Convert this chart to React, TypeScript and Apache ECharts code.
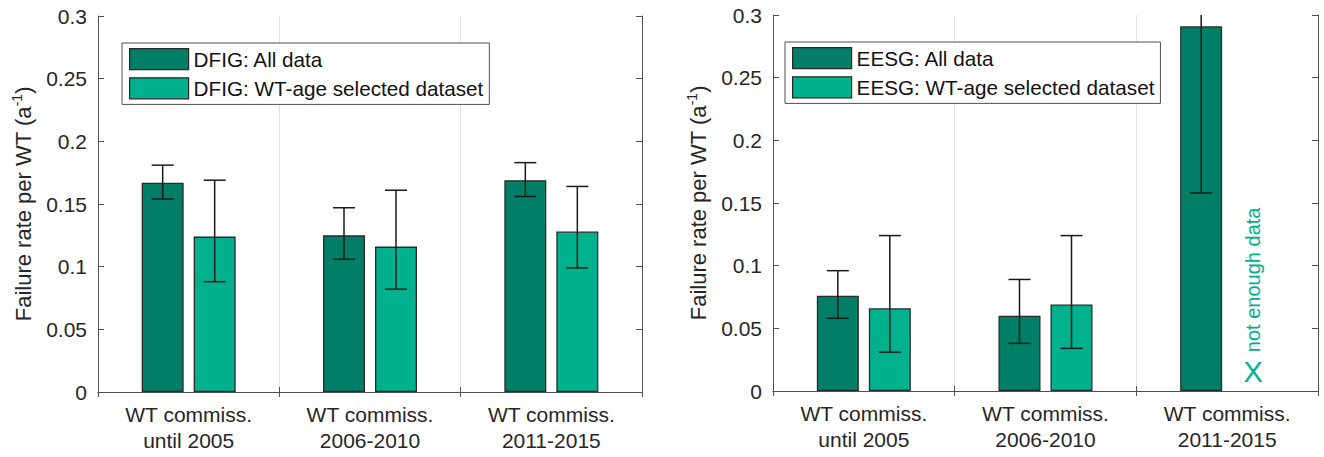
import React, { useEffect, useRef } from "react";
import * as echarts from "echarts";

// ---------- data ----------
const categories = ["WT commiss.\nuntil 2005", "WT commiss.\n2006-2010", "WT commiss.\n2011-2015"];

const dfigAllName = "DFIG: All data";
const dfigSelName = "DFIG: WT-age selected dataset";
const eesgAllName = "EESG: All data";
const eesgSelName = "EESG: WT-age selected dataset";

const dfigAll = [0.167, 0.125, 0.169];
const dfigAllLow = [0.154, 0.106, 0.156];
const dfigAllHigh = [0.181, 0.147, 0.183];
const dfigSel = [0.124, 0.116, 0.128];
const dfigSelLow = [0.088, 0.082, 0.099];
const dfigSelHigh = [0.169, 0.161, 0.164];

const eesgAll = [0.076, 0.06, 0.291];
const eesgAllLow = [0.058, 0.038, 0.158];
const eesgAllHigh = [0.096, 0.089, 0.424];
const eesgSel: (number | null)[] = [0.066, 0.069, null];
const eesgSelLow: (number | null)[] = [0.031, 0.034, null];
const eesgSelHigh: (number | null)[] = [0.124, 0.124, null];

const yMin = 0;
const yMax = 0.3;
const yInterval = 0.05;
const yAxisTitle = "Failure rate per WT (a{sup|-1})";

const noteCategory = 2;
const noteMark = "X";
const noteMarkValue = 0.015;
const noteText = "not enough data";
const noteTextStart = 0.031;

// ---------- style ----------
const DARK = "#007f66";
const LIGHT = "#00b18e";
const NOTE = "#00b08c";
const AXIS = "#505050";
const TEXT = "#262626";
const FONT = "Liberation Sans, Arial, Helvetica, sans-serif";
const BAR_W = 42;
const BAR_GAP_PX = 10;
const HALF = (BAR_W + BAR_GAP_PX) / 2;
const CAP = 11;

function errorData(low: (number | null)[], high: (number | null)[], side: number) {
  const out: any[] = [];
  low.forEach((l, i) => {
    if (l == null || high[i] == null) return;
    out.push([i, l, high[i], side]);
  });
  return out;
}

function errorRender(params: any, api: any) {
  const idx = api.value(0);
  const lo = api.value(1);
  const hiRaw = api.value(2);
  const side = api.value(3);
  const hi = Math.min(hiRaw, yMax);
  const pLo = api.coord([idx, lo]);
  const pHi = api.coord([idx, hi]);
  const x = pLo[0] + side * HALF;
  const style = { stroke: "#1a1a1a", lineWidth: 1.5 };
  const children: any[] = [
    { type: "line", shape: { x1: x, y1: pLo[1], x2: x, y2: pHi[1] }, style },
    { type: "line", shape: { x1: x - CAP, y1: pLo[1], x2: x + CAP, y2: pLo[1] }, style },
  ];
  if (hiRaw <= yMax) {
    children.push({ type: "line", shape: { x1: x - CAP, y1: pHi[1], x2: x + CAP, y2: pHi[1] }, style });
  }
  return { type: "group", children };
}

function noteRender(params: any, api: any) {
  const idx = api.value(0);
  const pm = api.coord([idx, api.value(1)]);
  const pt = api.coord([idx, api.value(2)]);
  const x = pm[0] + HALF;
  return {
    type: "group",
    children: [
      {
        type: "text",
        x,
        y: pm[1],
        style: { text: noteMark, fontSize: 29, fill: NOTE, align: "center", verticalAlign: "middle", fontFamily: FONT },
      },
      {
        type: "text",
        x,
        y: pt[1],
        rotation: Math.PI / 2,
        style: { text: noteText, fontSize: 20, fill: NOTE, align: "left", verticalAlign: "middle", fontFamily: FONT },
      },
    ],
  };
}

function axesFor(gridIndex: number) {
  const xBottom = {
    type: "category",
    gridIndex,
    data: categories,
    position: "bottom",
    boundaryGap: true,
    axisLine: { show: true, lineStyle: { color: AXIS, width: 1 } },
    axisTick: { show: true, inside: true, length: 5, lineStyle: { color: AXIS } },
    axisLabel: { fontSize: 21, color: TEXT, margin: 9, lineHeight: 26, fontFamily: FONT },
    splitLine: { show: true, lineStyle: { color: "#e3e3e3", width: 1 } },
  };
  const xTop = {
    type: "category",
    gridIndex,
    data: categories,
    position: "top",
    boundaryGap: true,
    axisLine: { show: true, lineStyle: { color: AXIS, width: 1 } },
    axisTick: { show: true, inside: true, length: 5, lineStyle: { color: AXIS } },
    axisLabel: { show: false },
    splitLine: { show: false },
  };
  const yLeft = {
    type: "value",
    gridIndex,
    min: yMin,
    max: yMax,
    interval: yInterval,
    position: "left",
    name: yAxisTitle,
    nameLocation: "middle",
    nameRotate: 90,
    nameGap: 62,
    nameTextStyle: {
      fontSize: 22,
      color: TEXT,
      fontFamily: FONT,
      rich: { sup: { fontSize: 14, color: TEXT, fontFamily: FONT, verticalAlign: "top", padding: [0, 0, 12, 0] } },
    },
    axisLine: { show: true, lineStyle: { color: AXIS, width: 1 } },
    axisTick: { show: true, inside: true, length: 6, lineStyle: { color: AXIS } },
    axisLabel: {
      fontSize: 21,
      color: TEXT,
      margin: 11,
      fontFamily: FONT,
      formatter: (v: number) => String(Number(v.toFixed(2))),
    },
    splitLine: { show: false },
  };
  const yRight = {
    type: "value",
    gridIndex,
    min: yMin,
    max: yMax,
    interval: yInterval,
    position: "right",
    axisLine: { show: true, lineStyle: { color: AXIS, width: 1 } },
    axisTick: { show: true, inside: true, length: 6, lineStyle: { color: AXIS } },
    axisLabel: { show: false },
    splitLine: { show: false },
  };
  return { x: [xBottom, xTop], y: [yLeft, yRight] };
}

function legendFor(left: number, top: number, names: string[]) {
  return {
    left,
    top,
    orient: "vertical",
    data: names,
    icon: "rect",
    itemWidth: 59,
    itemHeight: 21,
    itemGap: 7,
    padding: [5, 6, 5, 7],
    borderColor: AXIS,
    borderWidth: 1,
    backgroundColor: "#ffffff",
    selectedMode: false,
    itemStyle: { borderColor: "#262626", borderWidth: 1.2 },
    textStyle: { fontSize: 20.7, color: "#111", fontFamily: FONT },
  };
}

export default function App() {
  const ref = useRef<HTMLDivElement>(null);

  useEffect(() => {
    if (!ref.current) return;
    const chart = echarts.init(ref.current, null, { renderer: "svg" });
    const a0 = axesFor(0);
    const a1 = axesFor(1);

    const barCommon = (color: string) => ({
      type: "bar",
      barWidth: BAR_W,
      barGap: `${(BAR_GAP_PX / BAR_W) * 100}%`,
      itemStyle: { color, borderColor: "#2a2a2a", borderWidth: 1.3 },
      z: 2,
    });

    chart.setOption({
      animation: false,
      backgroundColor: "#ffffff",
      textStyle: { fontFamily: FONT },
      grid: [
        { left: 98, top: 16, width: 544, height: 376 },
        { left: 773, top: 15, width: 545, height: 376 },
      ],
      xAxis: [...a0.x, ...a1.x],
      yAxis: [...a0.y, ...a1.y],
      legend: [
        legendFor(122, 43, [dfigAllName, dfigSelName]),
        legendFor(785, 42, [eesgAllName, eesgSelName]),
      ],
      series: [
        { ...barCommon(DARK), name: dfigAllName, xAxisIndex: 0, yAxisIndex: 0, data: dfigAll },
        { ...barCommon(LIGHT), name: dfigSelName, xAxisIndex: 0, yAxisIndex: 0, data: dfigSel },
        { ...barCommon(DARK), name: eesgAllName, xAxisIndex: 2, yAxisIndex: 2, data: eesgAll },
        { ...barCommon(LIGHT), name: eesgSelName, xAxisIndex: 2, yAxisIndex: 2, data: eesgSel },
        {
          type: "custom",
          xAxisIndex: 0,
          yAxisIndex: 0,
          z: 5,
          renderItem: errorRender,
          data: [...errorData(dfigAllLow, dfigAllHigh, -1), ...errorData(dfigSelLow, dfigSelHigh, 1)],
        },
        {
          type: "custom",
          xAxisIndex: 2,
          yAxisIndex: 2,
          z: 5,
          renderItem: errorRender,
          data: [...errorData(eesgAllLow, eesgAllHigh, -1), ...errorData(eesgSelLow, eesgSelHigh, 1)],
        },
        {
          type: "custom",
          xAxisIndex: 2,
          yAxisIndex: 2,
          z: 5,
          renderItem: noteRender,
          data: [[noteCategory, noteMarkValue, noteTextStart]],
        },
      ],
    });
    return () => chart.dispose();
  }, []);

  return (
    <div
      ref={ref}
      style={{ position: "absolute", left: 0, top: 0, width: 1324, height: 457, background: "#fff" }}
    />
  );
}
